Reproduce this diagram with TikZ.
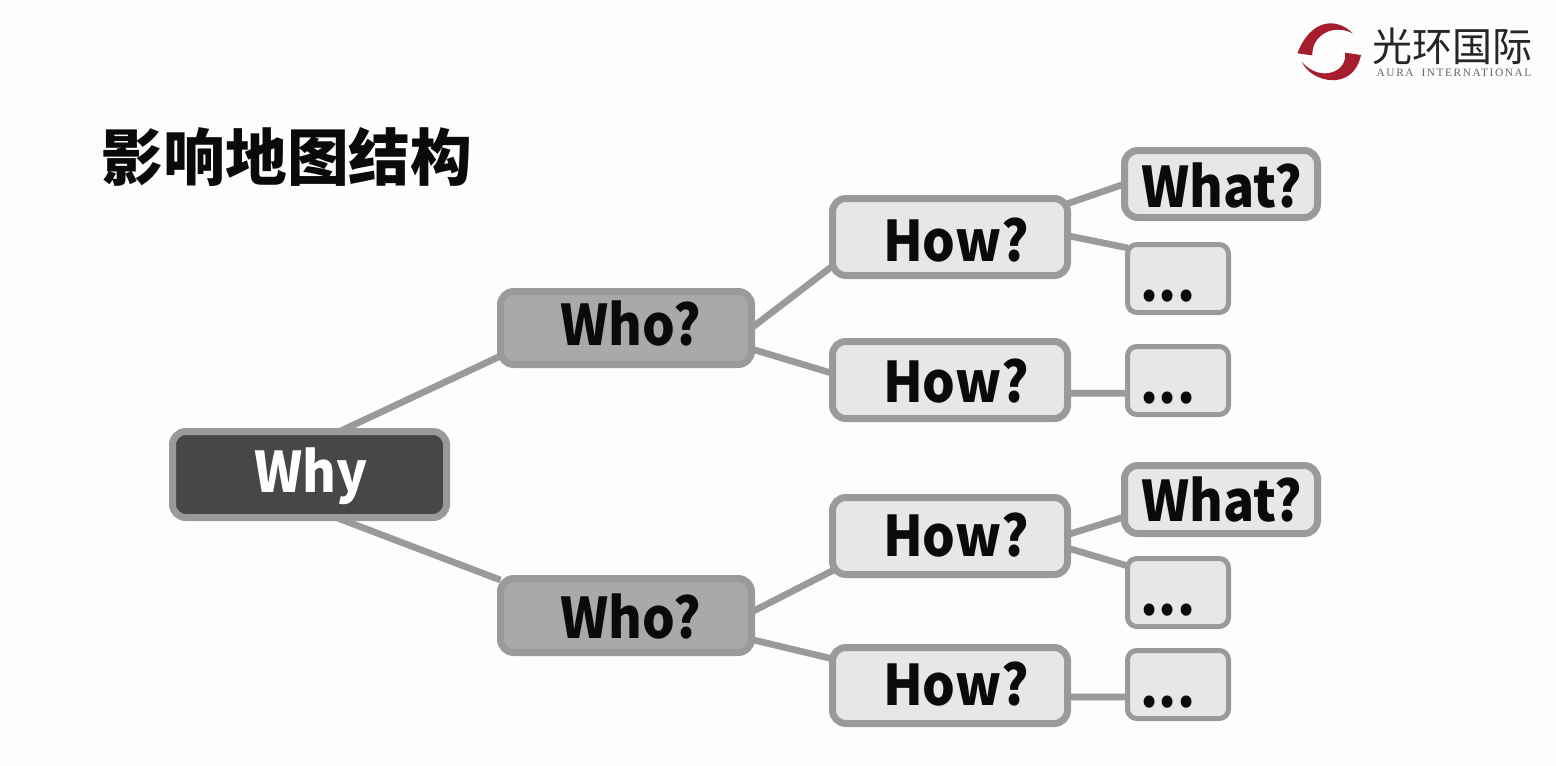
\documentclass[tikz,border=0pt]{standalone}
\usepackage{fontspec}
\setmainfont{Noto Sans CJK SC}
\newfontfamily\boxfont[FakeStretch=0.92]{Noto Sans CJK SC}
\newfontfamily\logofont{Noto Sans CJK SC}
\newfontfamily\logoserif[LetterSpace=14]{Liberation Serif}
\usetikzlibrary{backgrounds}
\definecolor{edgegray}{HTML}{999A9C}
\definecolor{lightfill}{HTML}{E7E7E9}
\definecolor{midfill}{HTML}{A9A9AB}
\definecolor{darkfill}{HTML}{47474A}
\definecolor{logored}{HTML}{A61E2E}
\definecolor{inkblack}{HTML}{0A0A0A}
\definecolor{pagewhite}{HTML}{FDFDFD}
\tikzset{
  basebox/.style 2 args={draw=edgegray, line width=5.25pt, rounded corners=10pt, outer sep=0pt, inner sep=0pt,
     minimum width=#1*0.75pt-5.25pt, minimum height=#2*0.75pt-5.25pt},
  lightbox/.style 2 args={basebox={#1}{#2}, fill=lightfill},
  midbox/.style 2 args={basebox={#1}{#2}, fill=midfill},
  darkbox/.style 2 args={basebox={#1}{#2}, fill=darkfill},
  dotbox/.style 2 args={basebox={#1}{#2}, fill=lightfill, line width=3.75pt, rounded corners=7pt},
  lab/.style={anchor=base, inner sep=0pt, font=\boxfont\fontsize{42}{42}\selectfont\bfseries, text=inkblack},
  link/.style={draw=edgegray, line width=5pt}
}
\begin{document}
\begin{tikzpicture}[x=0.75pt,y=-0.75pt]
\useasboundingbox (0,0) rectangle (1556,765);
% boxes
\node[darkbox={281}{93}]  (why)  at (309.5,474.5) {};
\node[midbox={258}{80}]   (who1) at (626,328) {};
\node[midbox={258}{81}]   (who2) at (626,615.5) {};
\node[lightbox={242}{84}] (how1) at (950,237) {};
\node[lightbox={242}{84}] (how2) at (950,380) {};
\node[lightbox={242}{84}] (how3) at (950,536) {};
\node[lightbox={242}{83}] (how4) at (950,685.5) {};
\node[lightbox={200}{74}] (what1) at (1221,184) {};
\node[lightbox={200}{75}] (what2) at (1221,499.5) {};
\node[dotbox={108}{75}]   (more1) at (1178,278.5) {};
\node[dotbox={108}{75}]   (more2) at (1178,380.5) {};
\node[dotbox={108}{75}]   (more3) at (1178,592.5) {};
\node[dotbox={108}{75}]   (more4) at (1178,684.5) {};
% labels
\node[lab, text=white] (twhy) at (311,492) {Why};
\node[lab] (twho1) at (631,345) {Who?};
\node[lab] (twho2) at (631,638) {Who?};
\node[lab] (thow1) at (956,261) {How?};
\node[lab] (thow2) at (956,402) {How?};
\node[lab] (thow3) at (956,556) {How?};
\node[lab] (thow4) at (956,705) {How?};
\node[lab] (twhat1) at (1222,207) {What?};
\node[lab] (twhat2) at (1222,521) {What?};
\node[lab] (tmore1) at (1168,301) {...};
\node[lab] (tmore2) at (1168,403) {...};
\node[lab] (tmore3) at (1168,615) {...};
\node[lab] (tmore4) at (1168,707) {...};
% connectors
\begin{pgfonlayer}{background}
\fill[pagewhite] (0,0) rectangle (1556,765);
\draw[link] ([xshift=22.5pt]why.north) -- ([yshift=-21pt]who1.west);
\draw[link] ([xshift=20pt]why.south) -- ([yshift=26.6pt]who2.west);
\draw[link] ([yshift=0pt]who1.east) -- ([yshift=-21.75pt]how1.west);
\draw[link] ([yshift=-15.75pt]who1.east) -- ([yshift=5pt]how2.west);
\draw[link] ([yshift=2.6pt]who2.east) -- ([yshift=-26pt]how3.west);
\draw[link] ([yshift=-18pt]who2.east) -- ([yshift=20pt]how4.west);
\draw[link] ([yshift=25pt]how1.east) -- ([yshift=0pt]what1.west);
\draw[link] ([yshift=1pt]how1.east) -- ([yshift=23pt]more1.west);
\draw[link] ([yshift=-10pt]how2.east) -- ([yshift=-9.5pt]more2.west);
\draw[link] ([yshift=1pt]how3.east) -- ([yshift=-13pt]what2.west);
\draw[link] ([yshift=-9pt]how3.east) -- ([yshift=20pt]more3.west);
\draw[link] ([yshift=-8.6pt]how4.east) -- ([yshift=-9.4pt]more4.west);
\end{pgfonlayer}
% title
\node[anchor=center, inner sep=0pt, font=\fontsize{46.3}{46}\selectfont\bfseries, text=inkblack] (title) at (287,157) {影响地图结构};
% logo
\begin{scope}[shift={(1270,0)}, x=0.25pt, y=-0.25pt]
\fill[logored] (248,100) .. controls (205,55) and (125,50) .. (82,160)
   -- (127,166) .. controls (125,105) and (190,70) .. (248,100) -- cycle;
\fill[logored] (95,185) .. controls (125,250) and (250,275) .. (273,165)
   -- (225,158) .. controls (235,215) and (150,250) .. (95,185) -- cycle;
\end{scope}
\node[anchor=center, inner sep=0pt, font=\fontsize{30}{30}\logofont, text=black!85] (logotext) at (1452,46) {光环国际};
\node[anchor=center, inner sep=0pt, font=\fontsize{8.5}{9}\logoserif, text=black!60] (logosub) at (1454,73) {AURA\hspace{6pt}INTERNATIONAL};
\end{tikzpicture}
\end{document}
